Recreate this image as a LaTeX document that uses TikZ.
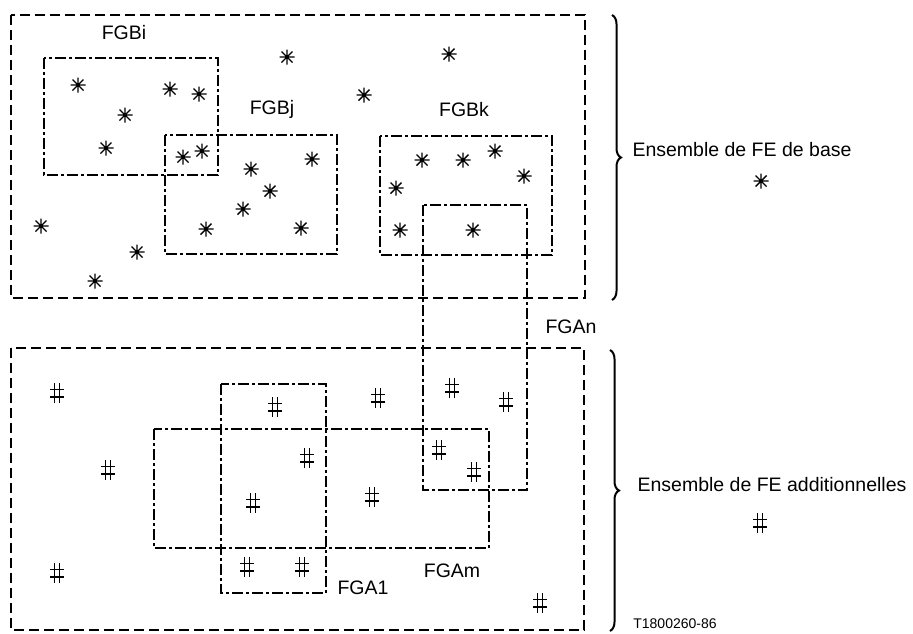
\documentclass[tikz,border=0pt]{standalone}
\usepackage{fontspec}
\setmainfont{Liberation Sans}
\usetikzlibrary{decorations.pathreplacing}
\tikzset{
  setbox/.style={line width=1.2pt, dash pattern=on 10pt off 5pt},
  groupbox/.style={line width=1.2pt, dash pattern=on 11pt off 3pt on 3pt off 3pt},
  lbl/.style={font=\fontsize{19.5}{22}\selectfont, inner sep=0pt},
  febase/.style={minimum size=15pt, inner sep=0pt, path picture={
    \draw[line width=1.4pt] (path picture bounding box.north) -- (path picture bounding box.south)
      (path picture bounding box.west) -- (path picture bounding box.east)
      ([shift={(2pt,-2pt)}]path picture bounding box.north west) -- ([shift={(-2pt,2pt)}]path picture bounding box.south east)
      ([shift={(-2pt,-2pt)}]path picture bounding box.north east) -- ([shift={(2pt,2pt)}]path picture bounding box.south west);}},
  feadd/.style={minimum width=14pt, minimum height=20pt, inner sep=0pt, path picture={
    \draw[line width=1.4pt] ([xshift=-2.7pt]path picture bounding box.north) -- ([xshift=-2.7pt]path picture bounding box.south)
      ([xshift=2.7pt]path picture bounding box.north) -- ([xshift=2.7pt]path picture bounding box.south)
      ([yshift=3.8pt]path picture bounding box.west) -- ([yshift=3.8pt]path picture bounding box.east)
      ([yshift=-3.8pt]path picture bounding box.west) -- ([yshift=-3.8pt]path picture bounding box.east);}}
}
\begin{document}
\begin{tikzpicture}[x=1pt, y=-1pt]
  \useasboundingbox (0,0) rectangle (913,633);

  \draw[setbox] (11,15) rectangle (585,298);
  \draw[setbox] (11,348) rectangle (584,630);

  \draw[groupbox] (44,58) rectangle (218,175);
  \draw[groupbox] (165,135) rectangle (337,254);
  \draw[groupbox] (380,136) rectangle (552,255);
  \draw[groupbox] (423,205) rectangle (527,490);
  \draw[groupbox] (221,384) rectangle (326,593);
  \draw[groupbox] (154,429) rectangle (489,548);

  \node[lbl] (fgbi) at (124,33) {FGBi};
  \node[lbl] (fgbj) at (272,109) {FGBj};
  \node[lbl] (fgbk) at (464,110) {FGBk};
  \node[lbl] (fgan) at (571,327) {FGAn};
  \node[lbl] (fga1) at (363,588) {FGA1};
  \node[lbl] (fgam) at (452,571) {FGAm};

  \foreach \x/\y [count=\i] in {287/57, 449/54, 78/85, 170/89, 199/94, 125/115, 364/95,
      106/148, 183/157, 202/151, 312/159, 251/169, 270/191, 243/209, 206/229, 301/228,
      41/226, 137/252, 95/281, 422/160, 463/160, 495/151, 524/176, 396/188, 400/230, 473/230}
    \node[febase] (b\i) at (\x,\y) {};

  \foreach \x/\y [count=\i] in {57/393, 108/470, 57/573, 275/407, 378/398, 452/388, 506/402,
      307/458, 439/450, 474/472, 253/503, 372/497, 247/567, 302/567, 540/603}
    \node[feadd] (a\i) at (\x,\y) {};

  \coordinate (btop) at (612,15);
  \coordinate (bbot) at (612,300);
  \coordinate (atop) at (610,350);
  \coordinate (abot) at (610,631);
  \draw[line width=2pt, decorate, decoration={brace, amplitude=9pt}] (btop) -- (bbot);
  \draw[line width=2pt, decorate, decoration={brace, amplitude=9pt}] (atop) -- (abot);

  \node[lbl] (base) at (742,150) {Ensemble de FE de base};
  \node[febase] (legb) at (761,181) {};
  \node[lbl] (addi) at (772,485) {Ensemble de FE additionnelles};
  \node[feadd] (lega) at (760,523) {};
  \node[font=\fontsize{14}{16}\selectfont, inner sep=0pt] (ref) at (675,624) {T1800260-86};
\end{tikzpicture}
\end{document}
